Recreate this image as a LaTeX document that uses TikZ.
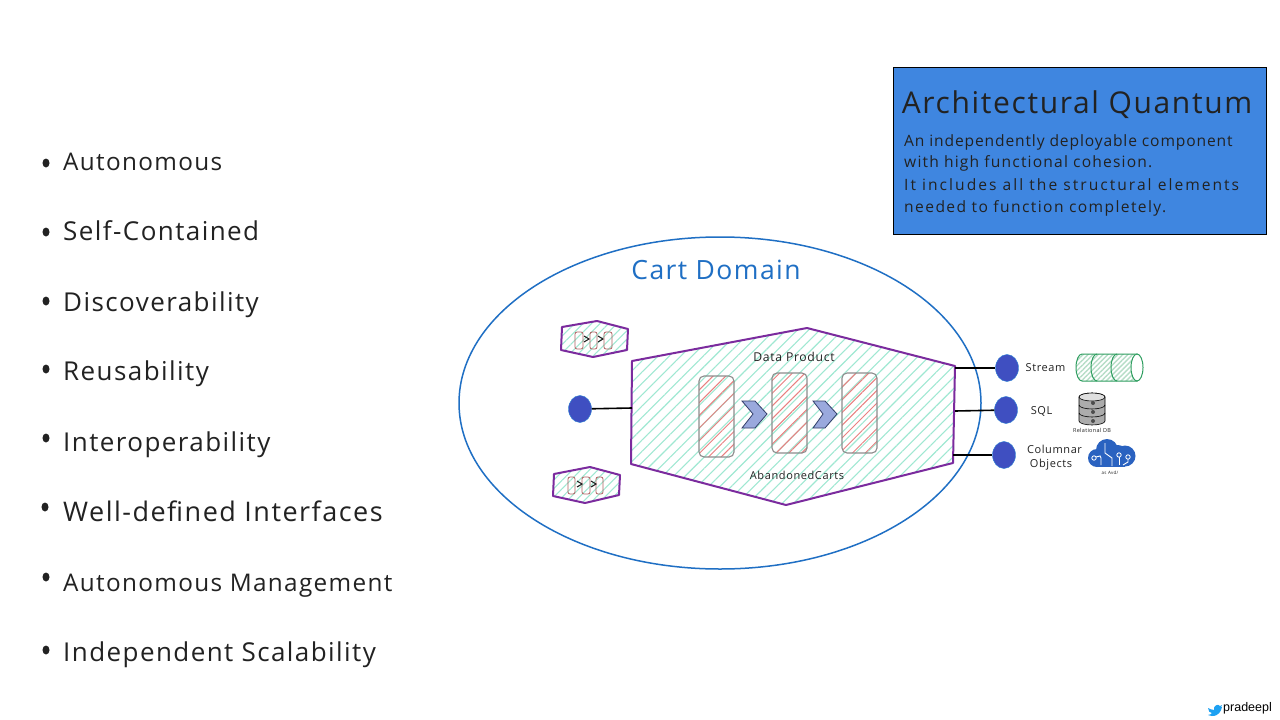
\documentclass[tikz,border=0pt]{standalone}
\usepackage{fontspec}
\setmainfont{Open Sans}
\newfontfamily\sketchfont[LetterSpace=5.5]{Open Sans}
\newfontfamily\tagfont{Liberation Sans}
\usetikzlibrary{shapes.geometric,positioning,patterns.meta}

\definecolor{boxblue}{HTML}{3F86E0}
\definecolor{ringblue}{HTML}{1F6FC4}
\definecolor{portblue}{HTML}{3F4FC1}
\definecolor{hullpurple}{HTML}{7B2B9E}
\definecolor{hatchmint}{HTML}{9FE8D2}
\definecolor{hatchred}{HTML}{E88080}
\definecolor{slotgrey}{HTML}{8C8C8C}
\definecolor{chevfill}{HTML}{9AA9DD}
\definecolor{chevedge}{HTML}{34406B}
\definecolor{pipegreen}{HTML}{2F9E60}
\definecolor{cloudblue}{HTML}{2A62C0}
\definecolor{birdblue}{HTML}{1DA1F2}
\definecolor{inkgrey}{HTML}{222222}

\tikzset{
    hull/.style={draw=hullpurple, line width=2pt, line join=round,
        pattern={Lines[angle=45, distance=8pt, line width=1.1pt]}, pattern color=hatchmint},
    minihull/.style={draw=hullpurple, line width=2pt, line join=round,
        pattern={Lines[angle=45, distance=6pt, line width=1pt]}, pattern color=hatchmint},
    slot/.style={draw=slotgrey, line width=1.1pt, rounded corners=5pt,
        pattern={Lines[angle=45, distance=9pt, line width=1pt]}, pattern color=hatchred},
    minislot/.style={draw=slotgrey!70!red, line width=.8pt, rounded corners=2pt},
    minichev/.style={line width=1.1pt, inkgrey},
    chevron/.style={draw=chevedge, fill=chevfill, line width=.8pt, line join=miter},
    port/.style={ellipse, fill=portblue, draw=portblue!70!cyan, line width=.4pt,
        minimum width=23pt, minimum height=27pt, inner sep=0pt},
    link/.style={draw=black, line width=1.6pt},
    bulletdot/.style={ellipse, fill=inkgrey, minimum width=7pt, minimum height=9pt, inner sep=0pt},
    bulletlabel/.style={anchor=base west, inner sep=0pt, text=inkgrey, font=\sketchfont\fontsize{26}{30}\selectfont},
    narrowlabel/.style={bulletlabel, font=\sketchfont\fontsize{24.3}{30}\selectfont},
    widelabel/.style={bulletlabel, font=\sketchfont\fontsize{27}{30}\selectfont},
    tinylabel/.style={anchor=base, inner sep=0pt, text=inkgrey, font=\sketchfont\fontsize{11}{14}\selectfont},
    hulllabel/.style={anchor=base, inner sep=0pt, text=inkgrey, font=\sketchfont\fontsize{12.2}{14}\selectfont},
    boxline/.style={anchor=base west, inner sep=0pt, text=inkgrey, font=\sketchfont\fontsize{15.6}{18}\selectfont},
    traceline/.style={white, line width=.9pt},
    tracedot/.style={white, line width=.8pt, fill=cloudblue},
}

\begin{document}
\begin{tikzpicture}[x=1pt, y=-1pt]
    \useasboundingbox (0,0) rectangle (1280,720);
    \fill[white] (0,0) rectangle (1280,720);

    % Property list
    \node[bulletdot] (dotA) at (46,163) {};
    \node[bulletdot] (dotB) at (46,232) {};
    \node[bulletdot] (dotC) at (46,301) {};
    \node[bulletdot] (dotD) at (46,369) {};
    \node[bulletdot] (dotE) at (46,438) {};
    \node[bulletdot] (dotF) at (45,507) {};
    \node[bulletdot] (dotG) at (46,577) {};
    \node[bulletdot] (dotH) at (46,650) {};
    \node[narrowlabel] (propA) at (63,170) {Autonomous};
    \node[bulletlabel] (propB) at (63,240) {Self-Contained};
    \node[bulletlabel] (propC) at (63,311) {Discoverability};
    \node[bulletlabel] (propD) at (63,380) {Reusability};
    \node[bulletlabel] (propE) at (63,451) {Interoperability};
    \node[widelabel] (propF) at (63,521) {Well-defined Interfaces};
    \node[narrowlabel] (propG) at (63,591) {Autonomous Management};
    \node[bulletlabel] (propH) at (63,661) {Independent Scalability};

    % Definition box
    \draw[fill=boxblue, draw=black, line width=1pt] (893,67) rectangle (1266,234);
    \node[anchor=base, inner sep=0pt, text=inkgrey, font=\sketchfont\fontsize{30}{34}\selectfont] (boxTitle) at (1077,113) {Architectural Quantum};
    \node[boxline] (boxA) at (904,146) {An independently deployable component};
    \node[boxline] (boxB) at (904,167) {\addfontfeature{LetterSpace=7.5}with high functional cohesion.};
    \node[boxline] (boxC) at (904,190) {\addfontfeature{LetterSpace=13}It includes all the structural elements};
    \node[boxline] (boxD) at (904,212) {\addfontfeature{LetterSpace=9}needed to function completely.};

    % Domain boundary
    \draw[draw=ringblue, line width=1.5pt] (720,403) ellipse (261 and 166);
    \node[anchor=base, inner sep=0pt, text=ringblue, font=\sketchfont\fontsize{26.5}{30}\selectfont] (domainTitle) at (716,279) {Cart Domain};

    % Data product hull
    \draw[hull] (632,361) -- (807,328) -- (955,366) -- (953,463) -- (786,505) -- (631,464) -- cycle;
    \node[hulllabel] (hullTop) at (794,361) {Data Product};
    \node[hulllabel, font=\sketchfont\fontsize{11}{14}\selectfont] (hullBottom) at (797,479) {AbandonedCarts};

    % Pipeline inside the hull
    \draw[slot] (699,376) rectangle (734,457);
    \draw[slot] (772,373) rectangle (807,453);
    \draw[slot] (842,373) rectangle (877,453);
    \draw[chevron] (742,401) -- (755,401) -- (767,414) -- (755,428) -- (742,428) -- (753,414) -- cycle;
    \draw[chevron] (813,401) -- (825,401) -- (837,414) -- (825,428) -- (813,428) -- (823,414) -- cycle;

    % Small hulls
    \draw[minihull] (562,327) -- (597,321) -- (628,329) -- (627,350) -- (593,357) -- (561,350) -- cycle;
    \draw[minislot] (575,332) rectangle (583,349);
    \draw[minislot] (590,332) rectangle (597,349);
    \draw[minislot] (604,332) rectangle (612,349);
    \draw[minichev] (584,336) -- (589,339) -- (584,342);
    \draw[minichev] (598,336) -- (603,339) -- (598,342);

    \draw[minihull] (554,474) -- (590,467) -- (620,475) -- (619,495) -- (585,503) -- (553,496) -- cycle;
    \draw[minislot] (568,477) rectangle (575,494);
    \draw[minislot] (582,477) rectangle (590,494);
    \draw[minislot] (596,477) rectangle (603,494);
    \draw[minichev] (577,481) -- (582,484) -- (577,487);
    \draw[minichev] (591,481) -- (596,484) -- (591,487);

    % Ports
    \node[port] (portIn) at (580,409) {};
    \node[port] (portStream) at (1007,368) {};
    \node[port] (portSql) at (1006,410) {};
    \node[port] (portObjects) at (1004,455) {};
    \coordinate (hullWest) at (632,408);
    \coordinate (hullEastA) at (955,368);
    \coordinate (hullEastB) at (955,411);
    \coordinate (hullEastC) at (953,455);
    \draw[link] (portIn) -- (hullWest);
    \draw[link] (hullEastA) -- (portStream);
    \draw[link] (hullEastB) -- (portSql);
    \draw[link] (hullEastC) -- (portObjects);

    % Port labels
    \node[tinylabel] (lblStream) at (1045.5,371) {Stream};
    \node[tinylabel] (lblSql) at (1041.5,414) {SQL};
    \node[tinylabel] (lblColumnar) at (1054.5,453) {Columnar};
    \node[tinylabel] (lblObjects) at (1051,467) {Objects};

    % Stream pipe
    \fill[white] (1082,354) -- (1137,354) -- (1137,381) -- (1082,381)
        arc (90:270:6 and 13.5) -- cycle;
    \draw[draw=pipegreen, line width=1pt, pattern={Lines[angle=45, distance=3.5pt, line width=1.4pt]}, pattern color=pipegreen!35]
        (1082,354) -- (1137,354) -- (1137,381) -- (1082,381)
        arc (90:270:6 and 13.5) -- cycle;
    \draw[draw=pipegreen, line width=1pt] (1097,354) arc (270:90:6 and 13.5);
    \draw[draw=pipegreen, line width=1pt] (1117,354) arc (270:90:6 and 13.5);
    \draw[draw=pipegreen, line width=1pt, fill=white] (1137,367.5) ellipse (6 and 13.5);

    % Database icon
    \draw[draw=black, line width=.6pt, fill=gray!65] (1079,397) -- (1079,421)
        arc (180:0:13 and 4) -- (1105,397) arc (0:-180:13 and 4);
    \draw[draw=black, line width=.6pt, fill=gray!25] (1092,397) ellipse (13 and 4);
    \draw[draw=black, line width=.6pt] (1079,405) arc (180:0:13 and 4);
    \draw[draw=black, line width=.6pt] (1079,413) arc (180:0:13 and 4);
    \fill[black!70] (1093,403) circle (2);
    \fill[black!70] (1093,412) circle (2);
    \fill[black!70] (1093,421) circle (2);
    \node[anchor=base, inner sep=0pt, text=inkgrey, font=\sketchfont\fontsize{5.5}{6}\selectfont] (lblDb) at (1092,432) {Relational DB};

    % Cloud icon
    \fill[cloudblue] (1097,458) circle (9);
    \fill[cloudblue] (1107,450) circle (11);
    \fill[cloudblue] (1118,453) circle (8);
    \fill[cloudblue] (1125,456) circle (10.5);
    \fill[cloudblue] (1097,456) rectangle (1125,467);
    \draw[traceline] (1096,457) -- (1100,456) -- (1101,458) -- (1101,465);
    \draw[traceline] (1105,443) -- (1105,453) -- (1112,458) -- (1112,466);
    \draw[traceline] (1119,457) -- (1119,465);
    \draw[traceline] (1128,459) -- (1128,462) -- (1123,465);
    \draw[tracedot] (1094,458) circle (2.2);
    \draw[tracedot] (1119,455) circle (2.2);
    \draw[tracedot] (1128,457) circle (2.2);
    \node[anchor=base, inner sep=0pt, text=inkgrey, font=\sketchfont\fontsize{4.5}{5}\selectfont] (lblCloud) at (1110,474) {as Avd/};

    % Credit
    \fill[birdblue] (1208,708) .. controls (1210,709) and (1212,710) .. (1214,710)
        .. controls (1213,706) and (1218,703) .. (1220,706) -- (1222,705) -- (1221,707) -- (1222,707)
        .. controls (1221,711) and (1219,716) .. (1212,716)
        .. controls (1210,716) and (1209,715) .. (1208,715)
        .. controls (1210,715) and (1211,714) .. (1212,713)
        .. controls (1210,713) and (1208,711) .. cycle;
    \node[anchor=base west, inner sep=0pt, text=black, font=\tagfont\fontsize{12.5}{14}\selectfont] (credit) at (1223,711) {pradeepl};
\end{tikzpicture}
\end{document}
